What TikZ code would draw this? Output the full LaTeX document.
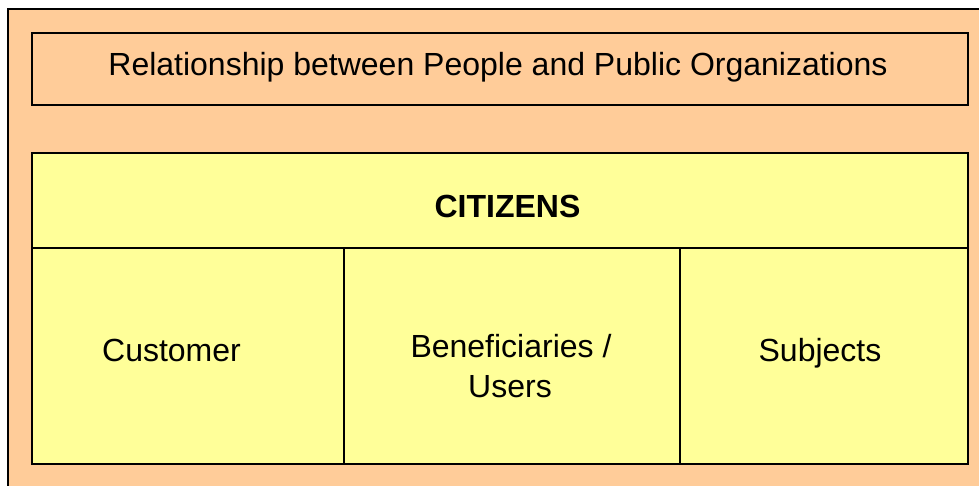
\documentclass[tikz,border=0pt]{standalone}
\usepackage{fontspec}
\setmainfont{Liberation Sans}
\definecolor{peach}{HTML}{FFCC99}
\definecolor{lyellow}{HTML}{FFFF99}
\begin{document}
\begin{tikzpicture}[x=1pt,y=-1pt,
  lbl/.style={anchor=base,inner sep=0pt,font=\fontsize{32}{40}\selectfont,text=black},
  frame/.style={draw=black,line width=2.5pt}]
\useasboundingbox (0,0) rectangle (979,485);
\fill[white] (0,0) rectangle (979,485);
\draw[frame,fill=peach] (8,9) rectangle (990,500);
\draw[frame,fill=peach] (32,33) rectangle (968,105);
\draw[frame,fill=lyellow] (32,153) rectangle (968,464);
\coordinate (d1) at (32,248);
\coordinate (d2) at (403,248);
\coordinate (d3) at (617,248);
\coordinate (d4) at (968,248);
\draw[line width=2.5pt] (d1) -- (d2);
\draw[line width=1.2pt] (d2) -- (d3);
\draw[line width=2.5pt] (d3) -- (d4);
\coordinate (v1t) at (344,248);
\coordinate (v1b) at (344,464);
\coordinate (v2t) at (680,248);
\coordinate (v2b) at (680,464);
\draw[line width=2.5pt] (v1t) -- (v1b);
\draw[line width=2.5pt] (v2t) -- (v2b);
\node[lbl] (title) at (498,75) {Relationship between People and Public Organizations};
\node[lbl,font=\fontsize{32}{40}\selectfont\bfseries] (cit) at (507.5,217) {CITIZENS};
\node[lbl] (cust) at (171.5,361.7) {Customer};
\node[lbl] (ben1) at (511,357) {Beneficiaries /};
\node[lbl] (ben2) at (510,397) {Users};
\node[lbl] (subj) at (820,361.7) {Subjects};
\end{tikzpicture}
\end{document}
